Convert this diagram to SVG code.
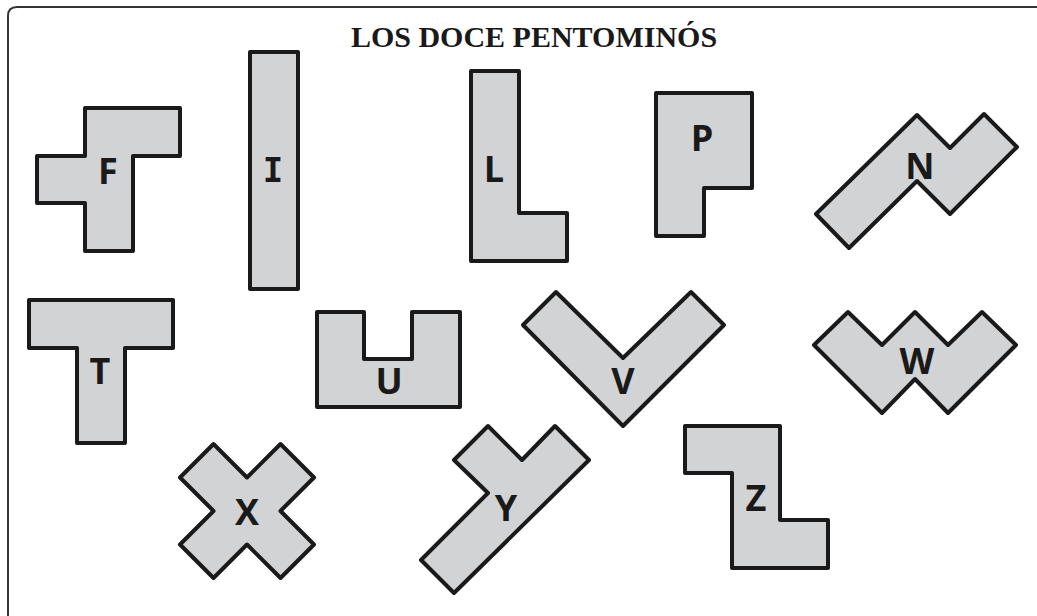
<svg xmlns="http://www.w3.org/2000/svg" width="1037" height="616" viewBox="0 0 1037 616">
<style>
.pc{fill:#d1d3d4;stroke:#1a1a1a;stroke-width:4;stroke-linejoin:round}
.lb{font-family:"Open Sans","DejaVu Sans",sans-serif;font-weight:700;font-size:36px;fill:#1a1a1a;text-anchor:middle;dominant-baseline:central}
.mono{font-family:"DejaVu Sans Mono","Liberation Mono",monospace;font-size:34px}
.tt{font-family:"Liberation Serif","Times New Roman",serif;font-weight:700;font-size:30px;fill:#1a1a1a;text-anchor:middle}
</style>
<rect width="1037" height="616" fill="#ffffff"/>
<path d="M8,616 V16 Q8,7 17,7 H1037" fill="none" stroke="#333" stroke-width="2"/>
<text class="tt" x="534" y="47">LOS DOCE PENTOMINÓS</text>
<g id="F"><polygon class="pc" points="85,108 180,108 180,156 133,156 133,251 85,251 85,203 37,203 37,156 85,156"/><text class="lb" x="108" y="170">F</text></g>
<g id="I"><rect class="pc" x="250" y="52" width="48" height="237"/><text class="lb mono" x="273" y="170">I</text></g>
<g id="L"><polygon class="pc" points="471,71 519,71 519,213 567,213 567,261 471,261"/><text class="lb" x="494" y="168">L</text></g>
<g id="P"><polygon class="pc" points="656,93 752,93 752,188 704,188 704,236 656,236"/><text class="lb" x="702" y="137">P</text></g>
<g id="N"><polygon class="pc" points="917,115 950,148 984,114 1017,147 950,214 917,181 849,248 816,214"/><text class="lb" x="920" y="165">N</text></g>
<g id="T"><polygon class="pc" points="29,300 173,300 173,348 125,348 125,443 77,443 77,348 29,348"/><text class="lb" x="100" y="370">T</text></g>
<g id="U"><polygon class="pc" points="317,312 364,312 364,359 412,359 412,312 460,312 460,407 317,407"/><text class="lb" x="389" y="380">U</text></g>
<g id="V"><polygon class="pc" points="556,292 623,358 691,292 724,325 623,426 523,325"/><text class="lb" x="623" y="380">V</text></g>
<g id="W"><polygon class="pc" points="848,312 882,345 915,312 948,345 982,312 1016,345 948,413 915,379 882,413 814,345"/><text class="lb" x="917" y="360">W</text></g>
<g id="X"><polygon class="pc" points="213.5,444 247,477.5 280.5,444 314,477.5 280.5,511 314,544.5 280.5,578 247,544.5 213.5,578 180,544.5 213.5,511 180,477.5"/><text class="lb" x="247" y="511">X</text></g>
<g id="Y"><polygon class="pc" points="488,426 522,460 555,426 589,460 454,593 421,560 488,493 454,460"/><text class="lb" x="506" y="507">Y</text></g>
<g id="Z"><polygon class="pc" points="685,426 780,426 780,520 828,520 828,568 732,568 732,473 685,473"/><text class="lb" x="756" y="497">Z</text></g>
<g id="connectors"></g>
</svg>
